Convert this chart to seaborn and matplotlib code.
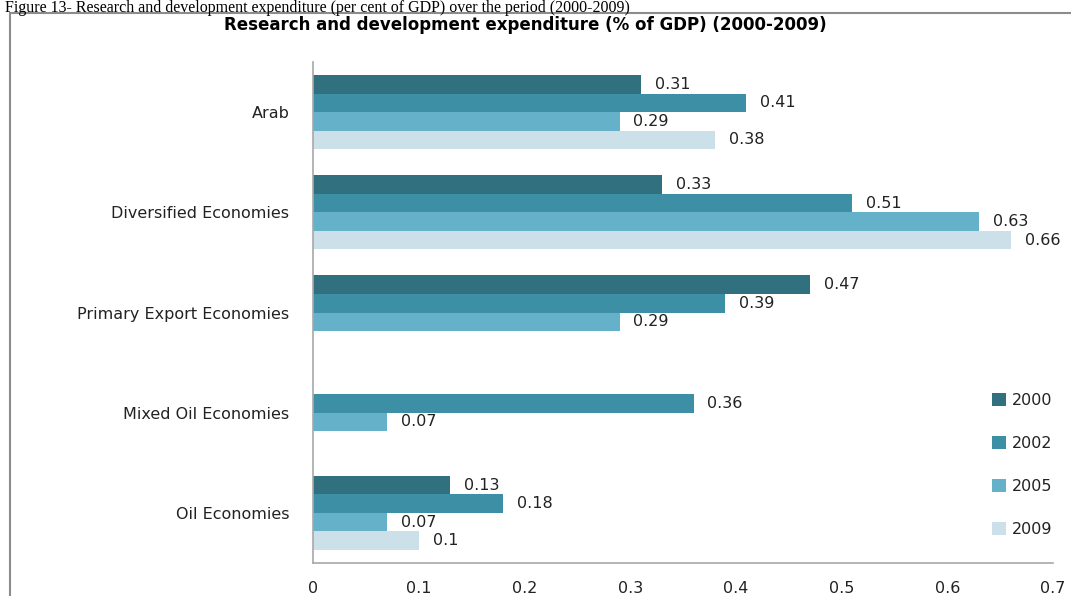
import pandas as pd
import numpy as np
import matplotlib
matplotlib.use("Agg")
import matplotlib.pyplot as plt
from matplotlib.lines import Line2D
from matplotlib.patches import Patch
import seaborn as sns

# data
regions = ["Arab", "Diversified Economies", "Primary Export Economies",
           "Mixed Oil Economies", "Oil Economies"]
years = ["2000", "2002", "2005", "2009"]
v2000 = [0.31, 0.33, 0.47, np.nan, 0.13]
v2002 = [0.41, 0.51, 0.39, 0.36, 0.18]
v2005 = [0.29, 0.63, 0.29, 0.07, 0.07]
v2009 = [0.38, 0.66, np.nan, np.nan, 0.10]
xticks = [0, 0.1, 0.2, 0.3, 0.4, 0.5, 0.6, 0.7]
xticklabels = ["0", "0.1", "0.2", "0.3", "0.4", "0.5", "0.6", "0.7"]

colors = ["#31717F", "#3D8FA5", "#64B1C9", "#CCE0E9"]

# long format table for seaborn
df = pd.DataFrame({"Region": regions * 4,
                   "Year": [y for y in years for _ in regions],
                   "Value": v2000 + v2002 + v2005 + v2009})
df = df.dropna()

sns.set_theme(style="white")
plt.rcParams["font.family"] = ["DejaVu Sans"]

fig = plt.figure(figsize=(10.71, 5.96), dpi=100)
ax = fig.add_axes([313 / 1071, 1 - 563 / 596, (1053 - 313) / 1071, (563 - 62) / 596])

sns.barplot(data=df, x="Value", y="Region", hue="Year", order=regions,
            hue_order=years, palette=colors, saturation=1, orient="h",
            width=0.74, errorbar=None, linewidth=0, legend=False, ax=ax)

# value labels
for cont in ax.containers:
    ax.bar_label(cont, fmt="{:g}", padding=10, fontsize=11.5, color="#222222")

ax.set_xlim(0, 0.7)
ax.set_xticks(xticks)
ax.set_xticklabels(xticklabels)
ax.set_xlabel("")
ax.set_ylabel("")
ax.tick_params(axis="x", length=0, pad=13, labelsize=11.5, labelcolor="#222222")
ax.tick_params(axis="y", length=0, pad=17, labelsize=11.5, labelcolor="#222222")
for s in ["top", "right"]:
    ax.spines[s].set_visible(False)
for s in ["left", "bottom"]:
    ax.spines[s].set_color("#A8A8A8")
    ax.spines[s].set_linewidth(1.2)

# legend
handles = [Patch(facecolor=c, edgecolor="none") for c in colors]
fig.legend(handles, years, loc="center left",
           bbox_to_anchor=(978 / 1071, 1 - 465 / 596), frameon=False,
           fontsize=11.5, labelspacing=1.75, handlelength=0.85,
           handleheight=0.85, handletextpad=0.35, labelcolor="#222222")

# title and caption
fig.text(525 / 1071, 1 - 25 / 596,
         "Research and development expenditure (% of GDP) (2000-2009)",
         ha="center", va="center", fontsize=12, fontweight="bold", color="black")
fig.text(5 / 1071, 1 - 12 / 596,
         "Figure 13- Research and development expenditure (per cent of GDP) over the period (2000-2009)",
         ha="left", va="baseline", fontsize=11.5, family="Liberation Serif",
         color="black")

# chart box border
fig.add_artist(Line2D([10 / 1071, 1.0], [1 - 13 / 596, 1 - 13 / 596],
                      transform=fig.transFigure, color="#8C8C8C", lw=1.5))
fig.add_artist(Line2D([10 / 1071, 10 / 1071], [1 - 13 / 596, 0.0],
                      transform=fig.transFigure, color="#8C8C8C", lw=1.5))

fig.savefig("out.png", dpi=100)
